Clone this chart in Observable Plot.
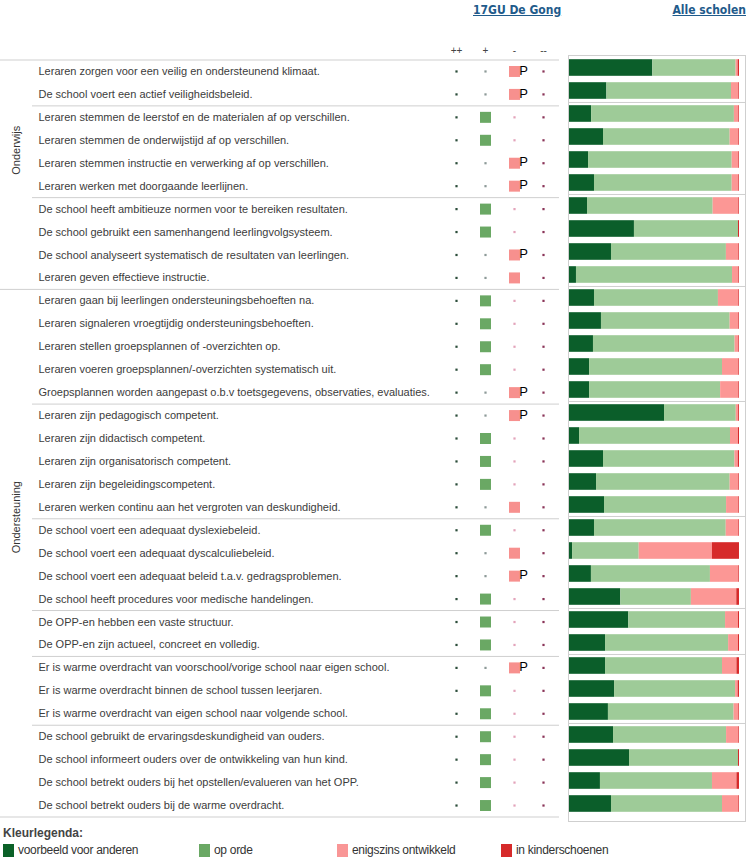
<!DOCTYPE html>
<html>
<head>
<meta charset="utf-8">
<script src="https://cdn.jsdelivr.net/npm/d3@7"></script>
<script src="https://cdn.jsdelivr.net/npm/@observablehq/plot@0.6"></script>
<style>
  body { margin: 0; background: #fff; }
  #wrap { position: relative; width: 747px; height: 864px; font-family: "Liberation Sans", Arial, sans-serif; overflow: hidden; }
  .abs { position: absolute; }
  .title { font-family: "DejaVu Sans Condensed", "DejaVu Sans", sans-serif; font-weight: bold; font-size: 12px; color: #1f5b8b; text-decoration: underline; white-space: nowrap; line-height: 14px; }
  .leg { font-family: "Liberation Sans Narrow", "Liberation Sans", Arial, sans-serif; font-size: 12px; letter-spacing: -0.3px; color: #333; white-space: nowrap; line-height: 14px; }
  .sw { position: absolute; width: 11px; height: 13px; }
</style>
</head>
<body>
<div id="wrap"></div>
<script>
// ---------- data ----------
const statements = [
  "Leraren zorgen voor een veilig en ondersteunend klimaat.",
  "De school voert een actief veiligheidsbeleid.",
  "Leraren stemmen de leerstof en de materialen af op verschillen.",
  "Leraren stemmen de onderwijstijd af op verschillen.",
  "Leraren stemmen instructie en verwerking af op verschillen.",
  "Leraren werken met doorgaande leerlijnen.",
  "De school heeft ambitieuze normen voor te bereiken resultaten.",
  "De school gebruikt een samenhangend leerlingvolgsysteem.",
  "De school analyseert systematisch de resultaten van leerlingen.",
  "Leraren geven effectieve instructie.",
  "Leraren gaan bij leerlingen ondersteuningsbehoeften na.",
  "Leraren signaleren vroegtijdig ondersteuningsbehoeften.",
  "Leraren stellen groepsplannen of -overzichten op.",
  "Leraren voeren groepsplannen/-overzichten systematisch uit.",
  "Groepsplannen worden aangepast o.b.v toetsgegevens, observaties, evaluaties.",
  "Leraren zijn pedagogisch competent.",
  "Leraren zijn didactisch competent.",
  "Leraren zijn organisatorisch competent.",
  "Leraren zijn begeleidingscompetent.",
  "Leraren werken continu aan het vergroten van deskundigheid.",
  "De school voert een adequaat dyslexiebeleid.",
  "De school voert een adequaat dyscalculiebeleid.",
  "De school voert een adequaat beleid t.a.v. gedragsproblemen.",
  "De school heeft procedures voor medische handelingen.",
  "De OPP-en hebben een vaste structuur.",
  "De OPP-en zijn actueel, concreet en volledig.",
  "Er is warme overdracht van voorschool/vorige school naar eigen school.",
  "Er is warme overdracht binnen de school tussen leerjaren.",
  "Er is warme overdracht van eigen school naar volgende school.",
  "De school gebruikt de ervaringsdeskundigheid van ouders.",
  "De school informeert ouders over de ontwikkeling van hun kind.",
  "De school betrekt ouders bij het opstellen/evalueren van het OPP.",
  "De school betrekt ouders bij de warme overdracht."
];
const sectionNames = ["Onderwijs", "Ondersteuning"];
const sectionSizes = [10, 23];
const subgroupSizes = [2, 4, 4, 5, 5, 4, 2, 3, 4];

const ratingColumns = ["++", "+", "-", "--"];
const schoolRating = ["-","-","+","+","-","-","+","+","-","-",
                      "+","+","+","+","-","-","+","+","+","-",
                      "+","-","-","+","+","+","-","+","+","+","+","+","+"];
const hasP = [1,1,0,0,1,1,0,0,1,0,
              0,0,0,0,1,1,0,0,0,0,
              0,0,1,0,0,0,1,0,0,0,0,0,0];

const categories = ["voorbeeld voor anderen", "op orde", "enigszins ontwikkeld", "in kinderschoenen"];
const voorbeeld = [49.0,22.0,13.0,20.0,11.2,14.7,10.6,38.2,24.7,4.1, 14.7,18.8,14.1,11.8,11.8, 55.9,5.9,20.0,15.9,20.6, 14.7,1.8,12.9,30.2, 34.9,21.2, 21.2,26.5,22.9, 25.9,35.3,18.2,24.7];
const opOrde    = [49.0,73.3,84.0,74.5,84.5,81.0,73.9,61.2,67.6,91.8, 72.9,75.7,83.3,78.2,77.1, 42.2,88.8,77.3,78.6,71.8, 77.5,39.2,70.0,41.5, 56.9,72.4, 68.8,71.2,73.9, 66.5,64.1,65.9,65.3];
const enigszins = [1.2,4.3,2.6,5.1,3.9,3.9,15.1,0.0,7.3,3.7, 12.0,5.1,2.2,9.6,10.7, 1.4,4.7,2.0,5.1,7.2, 7.4,43.1,16.7,26.7, 7.6,5.8, 8.5,1.5,2.8, 7.2,0.0,14.4,9.6];
const kinder    = [0.8,0.4,0.4,0.4,0.4,0.4,0.4,0.6,0.4,0.4, 0.4,0.4,0.4,0.4,0.4, 0.5,0.6,0.7,0.4,0.4, 0.4,15.9,0.4,1.6, 0.6,0.6, 1.5,0.8,0.4, 0.4,0.6,1.5,0.4];

// ---------- derived tables ----------
const seriesValues = [voorbeeld, opOrde, enigszins, kinder];
const barData = statements.flatMap((s, i) => categories.map((c, k) => ({statement: s, category: c, value: seriesValues[k][i]})));
const cells = statements.flatMap((s, i) => ratingColumns.filter(c => c !== schoolRating[i]).map(c => ({statement: s, col: c})));
const rated = statements.map((s, i) => ({statement: s, rating: schoolRating[i], p: hasP[i] === 1}));

function startsOf(sizes) { const out = []; let acc = 0; for (const n of sizes) { out.push(statements[acc]); acc += n; } return out; }
const sectionStarts = startsOf(sectionSizes);
const subgroupStarts = startsOf(subgroupSizes).filter(s => !sectionStarts.includes(s));
const lastStatement = statements[statements.length - 1];

// ---------- styling ----------
const catColors = ["#0b5e2a", "#9ecb98", "#fc9795", "#d62a2a"];
const legendColors = ["#0b6128", "#6aa864", "#f99696", "#d62a2a"];
const smallDotColors = ["#2b4d3a", "#8d9a98", "#e3a3ba", "#8a3458"];
const squareColors = {"+": "#6aa864", "-": "#f7908e"};
const lineColor = "#cfcfcf";

const wrap = document.getElementById("wrap");

// ---------- left: labels + rating matrix ----------
const leftRange = [59.5, 816.5];
const leftStep = (leftRange[1] - leftRange[0]) / statements.length;
const left = Plot.plot({
  width: 560, height: 830,
  marginTop: 59, marginBottom: 13, marginLeft: 0, marginRight: 1,
  x: {type: "point", domain: ratingColumns, range: [455, 544], padding: 0, axis: null},
  y: {type: "band", domain: statements, range: leftRange, padding: 0, axis: null},
  style: {fontFamily: "'Liberation Sans', Arial, sans-serif", background: "transparent"},
  marks: [
    Plot.ruleY(sectionStarts, {y: d => d, dy: -leftStep / 2, stroke: lineColor}),
    Plot.ruleY([lastStatement], {y: d => d, dy: leftStep / 2, stroke: lineColor}),
    Plot.ruleY(subgroupStarts, {y: d => d, dy: -leftStep / 2, stroke: lineColor, insetLeft: 32}),
    Plot.text(ratingColumns, {x: d => d, text: d => d, frameAnchor: "top", dy: -13, fontSize: 10, fill: "#444"}),
    Plot.text(statements, {y: d => d, text: d => d, frameAnchor: "left", textAnchor: "start", dx: 38, fontSize: 11, fill: "#3c3c3c"}),
    Plot.text([sectionNames[0]], {y: () => statements[4], dy: leftStep / 2, text: d => d, frameAnchor: "left", dx: 16, rotate: -90, fontSize: 11, fill: "#333"}),
    Plot.text([sectionNames[1]], {y: () => statements[21], text: d => d, frameAnchor: "left", dx: 16, rotate: -90, fontSize: 11, fill: "#333"}),
    ...ratingColumns.map((c, k) => Plot.dot(cells.filter(d => d.col === c), {x: "col", y: "statement", symbol: "square", r: 1.25, fill: smallDotColors[k]})),
    Plot.dot(rated.filter(d => d.rating === "+"), {x: "rating", y: "statement", symbol: "square", r: 6.2, fill: squareColors["+"]}),
    Plot.dot(rated.filter(d => d.rating === "-"), {x: "rating", y: "statement", symbol: "square", r: 6.2, fill: squareColors["-"]}),
    Plot.text(rated.filter(d => d.p), {x: "rating", y: "statement", text: () => "P", dx: 9, dy: -1, fontSize: 13, fill: "#000"})
  ]
});
left.classList.add("abs");
left.style.left = "0px"; left.style.top = "0px";
wrap.appendChild(left);

// ---------- right: stacked bars (Alle scholen) ----------
const rightRange = [55, 816];
const rightStep = (rightRange[1] - rightRange[0]) / statements.length;
const right = Plot.plot({
  width: 187, height: 830,
  marginTop: 55, marginBottom: 9, marginLeft: 8, marginRight: 2,
  x: {domain: [0, 100], range: [9, 179], axis: null},
  y: {type: "band", domain: statements, range: rightRange, padding: 0, axis: null},
  color: {domain: categories, range: catColors},
  style: {background: "transparent"},
  marks: [
    Plot.frame({stroke: lineColor}),
    Plot.ruleY([...subgroupStarts, statements[sectionSizes[0]]], {y: d => d, dy: -rightStep / 2, stroke: lineColor}),
    Plot.barX(barData, Plot.stackX({x: "value", y: "statement", fill: "category", order: categories, insetTop: 3.2, insetBottom: 3.2}))
  ]
});
right.classList.add("abs");
right.style.left = "560px"; right.style.top = "0px";
wrap.appendChild(right);

// ---------- titles ----------
function addDiv(cls, text, css) {
  const d = document.createElement("div");
  d.className = cls; d.textContent = text;
  Object.assign(d.style, css);
  wrap.appendChild(d);
  return d;
}
addDiv("abs title", "17GU De Gong", {left: "473px", top: "3px"});
addDiv("abs title", "Alle scholen", {right: "1px", top: "3px"});

// ---------- legend ----------
addDiv("abs", "Kleurlegenda:", {left: "3px", top: "826px", fontSize: "12px", fontWeight: "bold", color: "#444", fontFamily: "'Liberation Sans', Arial, sans-serif"});
const legendLeft = [3, 199, 337, 501];
categories.forEach((c, k) => {
  const sw = document.createElement("div");
  sw.className = "sw";
  Object.assign(sw.style, {left: legendLeft[k] + "px", top: "844px", background: legendColors[k]});
  wrap.appendChild(sw);
  addDiv("abs leg", c, {left: (legendLeft[k] + 15) + "px", top: "843px"});
});
</script>
</body>
</html>
